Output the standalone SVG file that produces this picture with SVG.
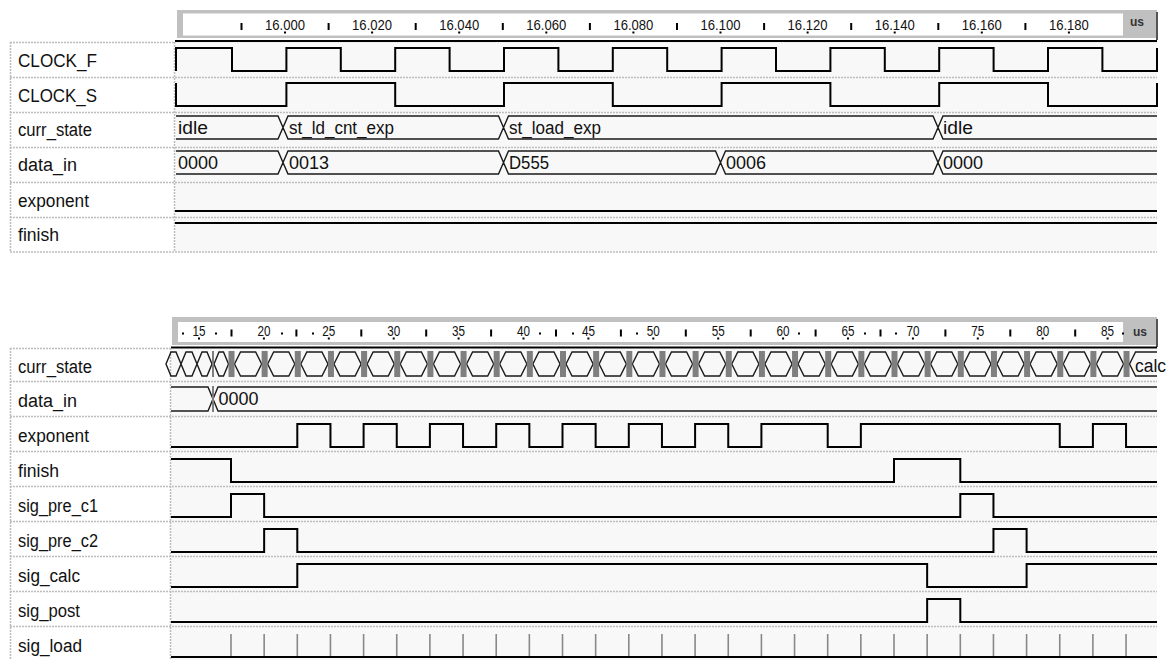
<svg xmlns="http://www.w3.org/2000/svg" xmlns:xlink="http://www.w3.org/1999/xlink" width="1174" height="660" viewBox="0 0 1174 660">
<style>
.w{fill:none;stroke:#000;stroke-width:2;stroke-linejoin:miter}
.bus{fill:none;stroke:#1a1a1a;stroke-width:1.4}
.sep{fill:none;stroke:#bdbdbd;stroke-width:1.5;stroke-dasharray:2 1}
.lbl{font-family:"Liberation Sans",Arial,sans-serif;font-size:18px;fill:#111}
.val{font-family:"Liberation Sans",Arial,sans-serif;font-size:18px;fill:#111}
.rl{font-family:"Liberation Sans",Arial,sans-serif;font-size:15px;fill:#111;text-anchor:middle}
.us{font-family:"Liberation Sans",Arial,sans-serif;font-size:12px;font-weight:bold;fill:#333}
.bg{fill:#f8f8f8}
.gray{fill:#c0c0c0}
.white{fill:#fff}
</style>
<defs>
<path id="hx" class="bus" d="M0,0 L6,-12 H21.15 L27.15,0 L21.15,12 H6 Z"/>
<rect id="gb" x="0" y="-13" width="6" height="26" fill="#7f7f7f"/>
<line id="tk" x1="0" y1="634" x2="0" y2="656" stroke="#888" stroke-width="1.6"/>
<rect id="t7" x="-1" y="0" width="2" height="7" fill="#000"/>
<rect id="d2" x="-1" y="0" width="2" height="2" fill="#000"/>
</defs>
<rect width="1174" height="660" fill="#fff"/>

<!-- ===== TOP PANEL ===== -->
<g id="top-ruler">
<rect class="gray" x="177" y="10" width="980" height="28"/>
<rect class="white" x="183" y="13.5" width="940" height="22"/>
<rect x="1156" y="12" width="2" height="28" fill="#555"/>
<rect x="175" y="40" width="982" height="2.2" fill="#000"/>
<g>
<use href="#t7" x="241.5" y="23"/><use href="#t7" x="328.6" y="23"/><use href="#t7" x="415.7" y="23"/><use href="#t7" x="502.8" y="23"/><use href="#t7" x="589.9" y="23"/><use href="#t7" x="677" y="23"/><use href="#t7" x="764.1" y="23"/><use href="#t7" x="851.2" y="23"/><use href="#t7" x="938.3" y="23"/><use href="#t7" x="1025.4" y="23"/>
<use href="#d2" x="285" y="31.5"/><use href="#d2" x="372.1" y="31.5"/><use href="#d2" x="459.2" y="31.5"/><use href="#d2" x="546.3" y="31.5"/><use href="#d2" x="633.4" y="31.5"/><use href="#d2" x="720.5" y="31.5"/><use href="#d2" x="807.6" y="31.5"/><use href="#d2" x="894.7" y="31.5"/><use href="#d2" x="981.8" y="31.5"/><use href="#d2" x="1068.9" y="31.5"/>
</g>
<text class="rl" x="285" y="30" textLength="40" lengthAdjust="spacingAndGlyphs">16.000</text>
<text class="rl" x="372.1" y="30" textLength="40" lengthAdjust="spacingAndGlyphs">16.020</text>
<text class="rl" x="459.2" y="30" textLength="40" lengthAdjust="spacingAndGlyphs">16.040</text>
<text class="rl" x="546.3" y="30" textLength="40" lengthAdjust="spacingAndGlyphs">16.060</text>
<text class="rl" x="633.4" y="30" textLength="40" lengthAdjust="spacingAndGlyphs">16.080</text>
<text class="rl" x="720.5" y="30" textLength="40" lengthAdjust="spacingAndGlyphs">16.100</text>
<text class="rl" x="807.6" y="30" textLength="40" lengthAdjust="spacingAndGlyphs">16.120</text>
<text class="rl" x="894.7" y="30" textLength="40" lengthAdjust="spacingAndGlyphs">16.140</text>
<text class="rl" x="981.8" y="30" textLength="40" lengthAdjust="spacingAndGlyphs">16.160</text>
<text class="rl" x="1068.9" y="30" textLength="40" lengthAdjust="spacingAndGlyphs">16.180</text>
<text class="us" x="1130" y="25.5">us</text>
</g>

<g id="top-grid">
<rect class="bg" x="175" y="42.2" width="982" height="210"/>
<line class="sep" x1="10" y1="42.5" x2="174" y2="42.5"/>
<line class="sep" x1="10" y1="77.5" x2="1157" y2="77.5"/>
<line class="sep" x1="10" y1="112.5" x2="1157" y2="112.5"/>
<line class="sep" x1="10" y1="147.5" x2="1157" y2="147.5"/>
<line class="sep" x1="10" y1="182.5" x2="1157" y2="182.5"/>
<line class="sep" x1="10" y1="217.5" x2="1157" y2="217.5"/>
<line class="sep" x1="10" y1="252" x2="1157" y2="252"/>
<line class="sep" x1="10.5" y1="42" x2="10.5" y2="252"/>
<line class="sep" x1="174.5" y1="42" x2="174.5" y2="252"/>
</g>

<g id="top-CLOCK_F">
<text class="lbl" x="18" y="66.5" textLength="79" lengthAdjust="spacingAndGlyphs">CLOCK_F</text>
<path class="w" d="M176,71 V48 H232 V71 H286.4 V48 H340.8 V71 H395.2 V48 H449.6 V71 H504 V48 H558.4 V71 H612.8 V48 H667.2 V71 H721.6 V48 H776 V71 H830.4 V48 H884.8 V71 H939.2 V48 H993.6 V71 H1048 V48 H1102.4 V71 H1157 V48"/>
</g>
<g id="top-CLOCK_S">
<text class="lbl" x="18" y="101.5" textLength="79" lengthAdjust="spacingAndGlyphs">CLOCK_S</text>
<path class="w" d="M176,83 V106 H286.4 V83 H395.2 V106 H504 V83 H612.8 V106 H721.6 V83 H830.4 V106 H939.2 V83 H1048 V106 H1157 V83"/>
</g>
<g id="top-curr_state">
<text class="lbl" x="18" y="136" textLength="74" lengthAdjust="spacingAndGlyphs">curr_state</text>
<path class="bus" d="M176,116 H278 L283,127.5 L278,139 H176 M283,127.5 L288,116 H498.5 L503.5,127.5 L498.5,139 H288 Z M503.5,127.5 L508.5,116 H933 L938,127.5 L933,139 H508.5 Z M938,127.5 L943,116 H1157 M1157,139 H943 L938,127.5"/>
<text class="val" x="178" y="133.5" textLength="30" lengthAdjust="spacingAndGlyphs">idle</text>
<text class="val" x="289" y="133.5" textLength="105" lengthAdjust="spacingAndGlyphs">st_ld_cnt_exp</text>
<text class="val" x="509" y="133.5" textLength="92" lengthAdjust="spacingAndGlyphs">st_load_exp</text>
<text class="val" x="943" y="133.5" textLength="30" lengthAdjust="spacingAndGlyphs">idle</text>
</g>
<g id="top-data_in">
<text class="lbl" x="18" y="171" textLength="59" lengthAdjust="spacingAndGlyphs">data_in</text>
<path class="bus" d="M176,151 H278 L283,162.5 L278,174 H176 M283,162.5 L288,151 H498.5 L503.5,162.5 L498.5,174 H288 Z M503.5,162.5 L508.5,151 H715.5 L720.5,162.5 L715.5,174 H508.5 Z M720.5,162.5 L725.5,151 H933 L938,162.5 L933,174 H725.5 Z M938,162.5 L943,151 H1157 M1157,174 H943 L938,162.5"/>
<text class="val" x="178" y="168.5" textLength="40" lengthAdjust="spacingAndGlyphs">0000</text>
<text class="val" x="289" y="168.5" textLength="40" lengthAdjust="spacingAndGlyphs">0013</text>
<text class="val" x="509" y="168.5" textLength="40" lengthAdjust="spacingAndGlyphs">D555</text>
<text class="val" x="726" y="168.5" textLength="40" lengthAdjust="spacingAndGlyphs">0006</text>
<text class="val" x="943" y="168.5" textLength="40" lengthAdjust="spacingAndGlyphs">0000</text>
</g>
<g id="top-exponent">
<text class="lbl" x="18" y="206.5" textLength="71" lengthAdjust="spacingAndGlyphs">exponent</text>
<path class="w" d="M175,211 H1157"/>
</g>
<g id="top-finish">
<text class="lbl" x="18" y="241" textLength="41" lengthAdjust="spacingAndGlyphs">finish</text>
<path class="w" d="M175,223 H1157"/>
</g>

<!-- ===== BOTTOM PANEL ===== -->
<g id="bottom-ruler">
<rect class="gray" x="172" y="317" width="985" height="28"/>
<rect class="white" x="178" y="322" width="945" height="20"/>
<rect x="1156" y="319" width="2" height="28" fill="#555"/>
<rect x="171" y="346.5" width="986" height="2.2" fill="#000"/>
<g>
<use href="#t7" x="231.5" y="329.5"/><use href="#t7" x="296.4" y="329.5"/><use href="#t7" x="361.3" y="329.5"/><use href="#t7" x="426.2" y="329.5"/><use href="#t7" x="491.1" y="329.5"/><use href="#t7" x="556" y="329.5"/><use href="#t7" x="620.9" y="329.5"/><use href="#t7" x="685.8" y="329.5"/><use href="#t7" x="750.7" y="329.5"/><use href="#t7" x="815.6" y="329.5"/><use href="#t7" x="880.5" y="329.5"/><use href="#t7" x="945.4" y="329.5"/><use href="#t7" x="1010.3" y="329.5"/><use href="#t7" x="1075.2" y="329.5"/>
<use href="#d2" x="199" y="337.5"/><use href="#d2" x="263.9" y="337.5"/><use href="#d2" x="328.8" y="337.5"/><use href="#d2" x="393.7" y="337.5"/><use href="#d2" x="458.6" y="337.5"/><use href="#d2" x="523.5" y="337.5"/><use href="#d2" x="588.4" y="337.5"/><use href="#d2" x="653.3" y="337.5"/><use href="#d2" x="718.2" y="337.5"/><use href="#d2" x="783.1" y="337.5"/><use href="#d2" x="848" y="337.5"/><use href="#d2" x="912.9" y="337.5"/><use href="#d2" x="977.8" y="337.5"/><use href="#d2" x="1042.7" y="337.5"/><use href="#d2" x="1107.6" y="337.5"/>
<use href="#d2" x="183" y="332.5"/><use href="#d2" x="216" y="332.5"/><use href="#d2" x="282" y="332.5"/><use href="#d2" x="313" y="332.5"/><use href="#d2" x="540" y="332.5"/><use href="#d2" x="573" y="332.5"/><use href="#d2" x="637" y="332.5"/><use href="#d2" x="799" y="332.5"/><use href="#d2" x="865" y="332.5"/><use href="#d2" x="896" y="332.5"/><use href="#d2" x="1123" y="332.5"/>
</g>
<text class="rl" x="199" y="336" textLength="13" lengthAdjust="spacingAndGlyphs">15</text>
<text class="rl" x="263.9" y="336" textLength="13" lengthAdjust="spacingAndGlyphs">20</text>
<text class="rl" x="328.8" y="336" textLength="13" lengthAdjust="spacingAndGlyphs">25</text>
<text class="rl" x="393.7" y="336" textLength="13" lengthAdjust="spacingAndGlyphs">30</text>
<text class="rl" x="458.6" y="336" textLength="13" lengthAdjust="spacingAndGlyphs">35</text>
<text class="rl" x="523.5" y="336" textLength="13" lengthAdjust="spacingAndGlyphs">40</text>
<text class="rl" x="588.4" y="336" textLength="13" lengthAdjust="spacingAndGlyphs">45</text>
<text class="rl" x="653.3" y="336" textLength="13" lengthAdjust="spacingAndGlyphs">50</text>
<text class="rl" x="718.2" y="336" textLength="13" lengthAdjust="spacingAndGlyphs">55</text>
<text class="rl" x="783.1" y="336" textLength="13" lengthAdjust="spacingAndGlyphs">60</text>
<text class="rl" x="848" y="336" textLength="13" lengthAdjust="spacingAndGlyphs">65</text>
<text class="rl" x="912.9" y="336" textLength="13" lengthAdjust="spacingAndGlyphs">70</text>
<text class="rl" x="977.8" y="336" textLength="13" lengthAdjust="spacingAndGlyphs">75</text>
<text class="rl" x="1042.7" y="336" textLength="13" lengthAdjust="spacingAndGlyphs">80</text>
<text class="rl" x="1107.6" y="336" textLength="13" lengthAdjust="spacingAndGlyphs">85</text>
<text class="us" x="1133" y="335.5">us</text>
</g>

<g id="bottom-grid">
<rect class="bg" x="171" y="348.7" width="986" height="312"/>
<line class="sep" x1="10" y1="348.5" x2="170" y2="348.5"/>
<line class="sep" x1="10" y1="381.5" x2="1157" y2="381.5"/>
<line class="sep" x1="10" y1="416.5" x2="1157" y2="416.5"/>
<line class="sep" x1="10" y1="451.5" x2="1157" y2="451.5"/>
<line class="sep" x1="10" y1="486.5" x2="1157" y2="486.5"/>
<line class="sep" x1="10" y1="521.5" x2="1157" y2="521.5"/>
<line class="sep" x1="10" y1="556.5" x2="1157" y2="556.5"/>
<line class="sep" x1="10" y1="591.5" x2="1157" y2="591.5"/>
<line class="sep" x1="10" y1="626.5" x2="1157" y2="626.5"/>
<line class="sep" x1="10.5" y1="348" x2="10.5" y2="660"/>
<line class="sep" x1="170.5" y1="348" x2="170.5" y2="660"/>
</g>

<g id="bottom-curr_state">
<text class="lbl" x="18" y="372.5" textLength="74" lengthAdjust="spacingAndGlyphs">curr_state</text>
<path class="bus" d="M166,364 L171,352 H176 L181,364 L176,376 H171 Z M181,364 L186,352 H192 L197,364 L192,376 H186 Z M197,364 L202,352 H207 L212,364 L207,376 H202 Z M214,364 L219,352 H223.5 L228.5,364 L223.5,376 H219 Z"/>
<rect x="212" y="351" width="2" height="26" fill="#7f7f7f"/>
<g>
<use href="#hx" x="234.5" y="364"/><use href="#hx" x="267.65" y="364"/><use href="#hx" x="300.8" y="364"/><use href="#hx" x="333.95" y="364"/><use href="#hx" x="367.1" y="364"/><use href="#hx" x="400.25" y="364"/><use href="#hx" x="433.4" y="364"/><use href="#hx" x="466.55" y="364"/><use href="#hx" x="499.7" y="364"/><use href="#hx" x="532.85" y="364"/><use href="#hx" x="566" y="364"/><use href="#hx" x="599.15" y="364"/><use href="#hx" x="632.3" y="364"/><use href="#hx" x="665.45" y="364"/><use href="#hx" x="698.6" y="364"/><use href="#hx" x="731.75" y="364"/><use href="#hx" x="764.9" y="364"/><use href="#hx" x="798.05" y="364"/><use href="#hx" x="831.2" y="364"/><use href="#hx" x="864.35" y="364"/><use href="#hx" x="897.5" y="364"/><use href="#hx" x="930.65" y="364"/><use href="#hx" x="963.8" y="364"/><use href="#hx" x="996.95" y="364"/><use href="#hx" x="1030.1" y="364"/><use href="#hx" x="1063.25" y="364"/><use href="#hx" x="1096.4" y="364"/>
</g>
<g>
<use href="#gb" x="228.5" y="364"/><use href="#gb" x="261.65" y="364"/><use href="#gb" x="294.8" y="364"/><use href="#gb" x="327.95" y="364"/><use href="#gb" x="361.1" y="364"/><use href="#gb" x="394.25" y="364"/><use href="#gb" x="427.4" y="364"/><use href="#gb" x="460.55" y="364"/><use href="#gb" x="493.7" y="364"/><use href="#gb" x="526.85" y="364"/><use href="#gb" x="560" y="364"/><use href="#gb" x="593.15" y="364"/><use href="#gb" x="626.3" y="364"/><use href="#gb" x="659.45" y="364"/><use href="#gb" x="692.6" y="364"/><use href="#gb" x="725.75" y="364"/><use href="#gb" x="758.9" y="364"/><use href="#gb" x="792.05" y="364"/><use href="#gb" x="825.2" y="364"/><use href="#gb" x="858.35" y="364"/><use href="#gb" x="891.5" y="364"/><use href="#gb" x="924.65" y="364"/><use href="#gb" x="957.8" y="364"/><use href="#gb" x="990.95" y="364"/><use href="#gb" x="1024.1" y="364"/><use href="#gb" x="1057.25" y="364"/><use href="#gb" x="1090.4" y="364"/><use href="#gb" x="1123.55" y="364"/>
</g>
<path class="bus" d="M1129.55,364 L1135.55,352 H1157 M1157,376 H1135.55 L1129.55,364"/>
<text class="val" x="1135" y="371.5" textLength="31" lengthAdjust="spacingAndGlyphs">calc</text>
</g>

<g id="bottom-data_in">
<text class="lbl" x="18" y="406.5" textLength="59" lengthAdjust="spacingAndGlyphs">data_in</text>
<path class="bus" d="M171,387 H208 L213,399 L208,411 H171 M213,399 L218,387 H1157 M1157,411 H218 L213,399"/>
<rect x="212" y="386" width="2" height="26" fill="#7f7f7f"/>
<text class="val" x="218.5" y="405" textLength="40" lengthAdjust="spacingAndGlyphs">0000</text>
</g>
<g id="bottom-exponent">
<text class="lbl" x="18" y="441.5" textLength="71" lengthAdjust="spacingAndGlyphs">exponent</text>
<path class="w" d="M171,447 H297.3 V424 H330.45 V447 H363.6 V424 H396.75 V447 H429.9 V424 H463.05 V447 H496.2 V424 H529.35 V447 H562.5 V424 H595.65 V447 H628.8 V424 H661.95 V447 H695.1 V424 H728.25 V447 H761.4 V424 H827.7 V447 H860.85 V424 H1059.75 V447 H1092.9 V424 H1126.05 V447 H1157"/>
</g>
<g id="bottom-finish">
<text class="lbl" x="18" y="476.5" textLength="41" lengthAdjust="spacingAndGlyphs">finish</text>
<path class="w" d="M171,459 H231 V482 H894 V459 H960.3 V482 H1157"/>
</g>
<g id="bottom-sig_pre_c1">
<text class="lbl" x="18" y="511.5" textLength="80" lengthAdjust="spacingAndGlyphs">sig_pre_c1</text>
<path class="w" d="M171,517 H231 V494 H264.15 V517 H960.3 V494 H993.45 V517 H1157"/>
</g>
<g id="bottom-sig_pre_c2">
<text class="lbl" x="18" y="546.5" textLength="80" lengthAdjust="spacingAndGlyphs">sig_pre_c2</text>
<path class="w" d="M171,552 H264.15 V529 H297.3 V552 H993.45 V529 H1026.6 V552 H1157"/>
</g>
<g id="bottom-sig_calc">
<text class="lbl" x="18" y="581.5" textLength="62" lengthAdjust="spacingAndGlyphs">sig_calc</text>
<path class="w" d="M171,587 H297.3 V564 H927.15 V587 H1026.6 V564 H1157"/>
</g>
<g id="bottom-sig_post">
<text class="lbl" x="18" y="616.5" textLength="62" lengthAdjust="spacingAndGlyphs">sig_post</text>
<path class="w" d="M171,622 H927.15 V599 H960.3 V622 H1157"/>
</g>
<g id="bottom-sig_load">
<text class="lbl" x="18" y="651.5" textLength="64" lengthAdjust="spacingAndGlyphs">sig_load</text>
<g>
<use href="#tk" x="231"/><use href="#tk" x="264.15"/><use href="#tk" x="297.3"/><use href="#tk" x="330.45"/><use href="#tk" x="363.6"/><use href="#tk" x="396.75"/><use href="#tk" x="429.9"/><use href="#tk" x="463.05"/><use href="#tk" x="496.2"/><use href="#tk" x="529.35"/><use href="#tk" x="562.5"/><use href="#tk" x="595.65"/><use href="#tk" x="628.8"/><use href="#tk" x="661.95"/><use href="#tk" x="695.1"/><use href="#tk" x="728.25"/><use href="#tk" x="761.4"/><use href="#tk" x="794.55"/><use href="#tk" x="827.7"/><use href="#tk" x="860.85"/><use href="#tk" x="894"/><use href="#tk" x="927.15"/><use href="#tk" x="960.3"/><use href="#tk" x="993.45"/><use href="#tk" x="1026.6"/><use href="#tk" x="1059.75"/><use href="#tk" x="1092.9"/><use href="#tk" x="1126.05"/>
</g>
<path class="w" d="M171,657 H1157"/>
</g>
</svg>
